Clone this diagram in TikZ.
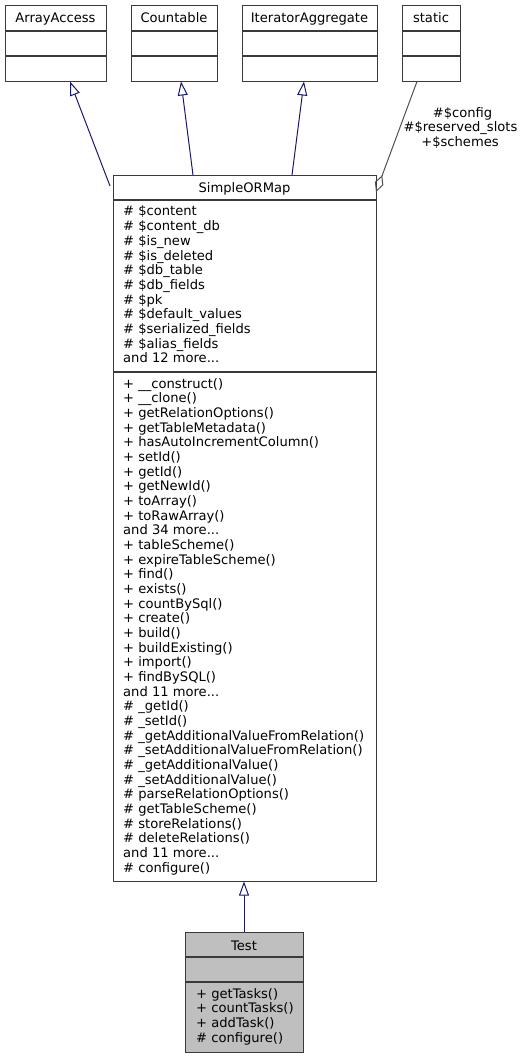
\documentclass[tikz,border=0pt]{standalone}
\usepackage{fontspec}
\setmainfont{DejaVu Sans}
\usetikzlibrary{arrows.meta}
\definecolor{edgeblue}{HTML}{191970}
\definecolor{boxline}{HTML}{3A3A3A}
\definecolor{aggr}{HTML}{505050}
\definecolor{testfill}{HTML}{BFBFBF}
\newcommand\dgfnt{\fontsize{13.1}{14.67}\selectfont}
\newcommand\tdots{...}
\tikzset{
  umlbox/.style={draw=boxline, line width=1.1pt, inner sep=0pt, anchor=north west, rectangle},
  divline/.style={draw=boxline, line width=1.1pt},
  txt/.style={inner sep=0pt, anchor=base west, font=\dgfnt},
  ttl/.style={inner sep=0pt, anchor=base, font=\dgfnt},
  inh/.style={draw=edgeblue, line width=1pt, -{Triangle[open,length=14pt,width=10pt]}},
  agg/.style={draw=aggr, line width=1pt, -{Diamond[open,length=18pt,width=9pt]}},
}
\begin{document}
\begin{tikzpicture}[x=1pt,y=-1pt]
\useasboundingbox (0,0) rectangle (529,1059);

% top boxes
\node[umlbox, minimum width=101pt, minimum height=76pt] (aa) at (5,5) {};
\node[ttl] (aat) at (55.5,23) {ArrayAccess};
\draw[divline] (5,31) -- (106,31) (5,56) -- (106,56);

\node[umlbox, minimum width=86pt, minimum height=76pt] (cnt) at (131,5) {};
\node[ttl] (cntt) at (174,23) {Countable};
\draw[divline] (131,31) -- (217,31) (131,56) -- (217,56);

\node[umlbox, minimum width=135pt, minimum height=76pt] (ia) at (242,5) {};
\node[ttl] (iat) at (309.5,23) {IteratorAggregate};
\draw[divline] (242,31) -- (377,31) (242,56) -- (377,56);

\node[umlbox, minimum width=58pt, minimum height=76pt] (st) at (402,5) {};
\node[ttl] (stt) at (431,23) {static};
\draw[divline] (402,31) -- (460,31) (402,56) -- (460,56);

% SimpleORMap
\node[umlbox, minimum width=263pt, minimum height=706pt] (sorm) at (113,175) {};
\node[ttl] (sormt) at (244.5,193) {SimpleORMap};
\draw[divline] (113,200) -- (376,200) (113,372) -- (376,372);
\foreach \t [count=\i] in {\# \$content, \# \$content\_db, \# \$is\_new, \# \$is\_deleted, \# \$db\_table, \# \$db\_fields, \# \$pk, \# \$default\_values, \# \$serialized\_fields, \# \$alias\_fields, and 12 more\tdots}
  \node[txt] (a\i) at (123,{216+14.67*(\i-1)}) {\t};
\foreach \t [count=\i] in {+ \_\_construct(), + \_\_clone(), + getRelationOptions(), + getTableMetadata(), + hasAutoIncrementColumn(), + setId(), + getId(), + getNewId(), + toArray(), + toRawArray(), and 34 more\tdots, + tableScheme(), + expireTableScheme(), + find(), + exists(), + countBySql(), + create(), + build(), + buildExisting(), + import(), + findBySQL(), and 11 more\tdots, \# \_getId(), \# \_setId(), \# \_getAdditionalValueFromRelation(), \# \_setAdditionalValueFromRelation(), \# \_getAdditionalValue(), \# \_setAdditionalValue(), \# parseRelationOptions(), \# getTableScheme(), \# storeRelations(), \# deleteRelations(), and 11 more\tdots, \# configure()}
  \node[txt] (m\i) at (123,{388+14.67*(\i-1)}) {\t};

% Test
\node[umlbox, fill=testfill, minimum width=118pt, minimum height=120pt] (test) at (185,932) {};
\node[ttl] (testt) at (244,950) {Test};
\draw[divline] (185,957) -- (303,957) (185,982) -- (303,982);
\foreach \t [count=\i] in {+ getTasks(), + countTasks(), + addTask(), \# configure()}
  \node[txt] (t\i) at (196,{998+14.67*(\i-1)}) {\t};

% connectors
\coordinate (e1a) at (110,186); \coordinate (e1b) at (70,81.5);
\coordinate (e2a) at (193,175); \coordinate (e2b) at (181,81.5);
\coordinate (e3a) at (292,175); \coordinate (e3b) at (304,81.5);
\coordinate (e4a) at (244,932); \coordinate (e4b) at (244,881.5);
\coordinate (e5a) at (417,81.5); \coordinate (e5b) at (376,192);
\draw[inh] (e1a) -- (e1b);
\draw[inh] (e2a) -- (e2b);
\draw[inh] (e3a) -- (e3b);
\draw[inh] (e4a) -- (e4b);
\draw[agg] (e5a) -- (e5b);

\node[ttl] (l1) at (462.5,117.5) {\#\$config};
\node[ttl] (l2) at (460.5,132) {\#\$reserved\_slots};
\node[ttl] (l3) at (460,146.5) {+\$schemes};
\end{tikzpicture}
\end{document}
